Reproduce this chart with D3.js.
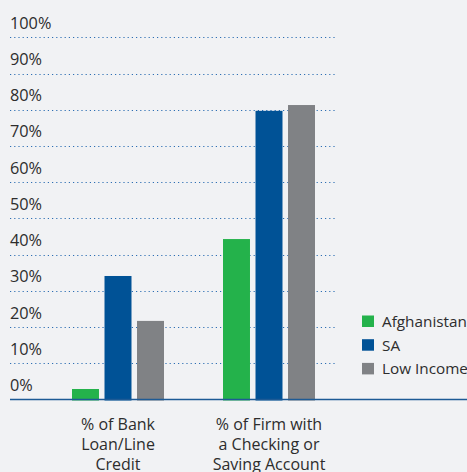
<!DOCTYPE html>
<html>
<head>
<meta charset="utf-8">
<script src="https://cdn.jsdelivr.net/npm/d3@7"></script>
<style>
  html, body { margin: 0; padding: 0; background: #f1f2f4; }
  svg { display: block; font-family: "Open Sans", "Noto Sans", sans-serif; }
</style>
</head>
<body>
<svg id="chart" width="467" height="472"></svg>
<script>
// Access to finance indicators, Afghanistan vs. South Asia and low-income countries
const categories = [
  ["% of Bank", "Loan/Line", "Credit"],
  ["% of Firm with", "a Checking or", "Saving Account"]
];
const seriesNames = ["Afghanistan", "SA", "Low Income"];
const seriesColors = ["#24b24b", "#005296", "#808285"];
const afghanistan = [2.9, 44.3];
const sa = [34.1, 79.7];
const lowIncome = [21.7, 81.3];
const tickValues = [0, 10, 20, 30, 40, 50, 60, 70, 80, 90, 100];

const values = [afghanistan, sa, lowIncome];

const svg = d3.select("#chart");
const width = 467;

const y = d3.scaleLinear().domain([0, 100]).range([399.5, 37.3]);
const catKeys = categories.map((c, i) => i);
const x0 = d3.scalePoint().domain(catKeys).range([118, 269]);
const x1 = d3.scaleBand().domain(seriesNames).range([-46, 46]).paddingInner(0.17).paddingOuter(0);

// dotted horizontal gridlines
svg.append("g")
  .selectAll("line")
  .data(tickValues.filter(t => t > 0))
  .join("line")
  .attr("x1", 10).attr("x2", 337)
  .attr("y1", d => Math.round(y(d)) + 0.5)
  .attr("y2", d => Math.round(y(d)) + 0.5)
  .attr("stroke", "#2e6fb3")
  .attr("stroke-width", 1.2)
  .attr("stroke-dasharray", "1.2,3");

// tick labels sit above their gridlines
svg.append("g")
  .selectAll("text")
  .data(tickValues)
  .join("text")
  .attr("x", 10)
  .attr("y", d => y(d) - 8.5)
  .attr("font-size", 16.3)
  .attr("fill", "#2d2d2d")
  .text(d => d + "%");

// bars
const groups = svg.append("g")
  .selectAll("g")
  .data(catKeys)
  .join("g")
  .attr("transform", d => `translate(${x0(d)},0)`);

groups.selectAll("rect")
  .data(ci => seriesNames.map((s, si) => ({ s, si, v: values[si][ci] })))
  .join("rect")
  .attr("x", d => x1(d.s))
  .attr("width", x1.bandwidth())
  .attr("y", d => y(d.v))
  .attr("height", d => y(0) - y(d.v) + 1)
  .attr("fill", d => seriesColors[d.si]);

// baseline
svg.append("line")
  .attr("x1", 10).attr("x2", width)
  .attr("y1", y(0)).attr("y2", y(0))
  .attr("stroke", "#1d5a95")
  .attr("stroke-width", 1.5);

// category labels
const catLabels = svg.append("g")
  .selectAll("text")
  .data(catKeys)
  .join("text")
  .attr("text-anchor", "middle")
  .attr("font-size", 16)
  .attr("fill", "#2d2d2d");
catLabels.selectAll("tspan")
  .data(ci => categories[ci].map(line => ({ line, ci })))
  .join("tspan")
  .attr("x", d => x0(d.ci))
  .attr("y", (d, i) => 430 + i * 20)
  .text(d => d.line);

// legend
const legend = svg.append("g")
  .selectAll("g")
  .data(seriesNames)
  .join("g")
  .attr("transform", (d, i) => `translate(362,${315.5 + i * 23.7})`);
legend.append("rect")
  .attr("width", 12).attr("height", 11.5)
  .attr("fill", (d, i) => seriesColors[i]);
legend.append("text")
  .attr("x", 20).attr("y", 11.5)
  .attr("font-size", 15.3)
  .attr("fill", "#2d2d2d")
  .text(d => d);
</script>
</body>
</html>
